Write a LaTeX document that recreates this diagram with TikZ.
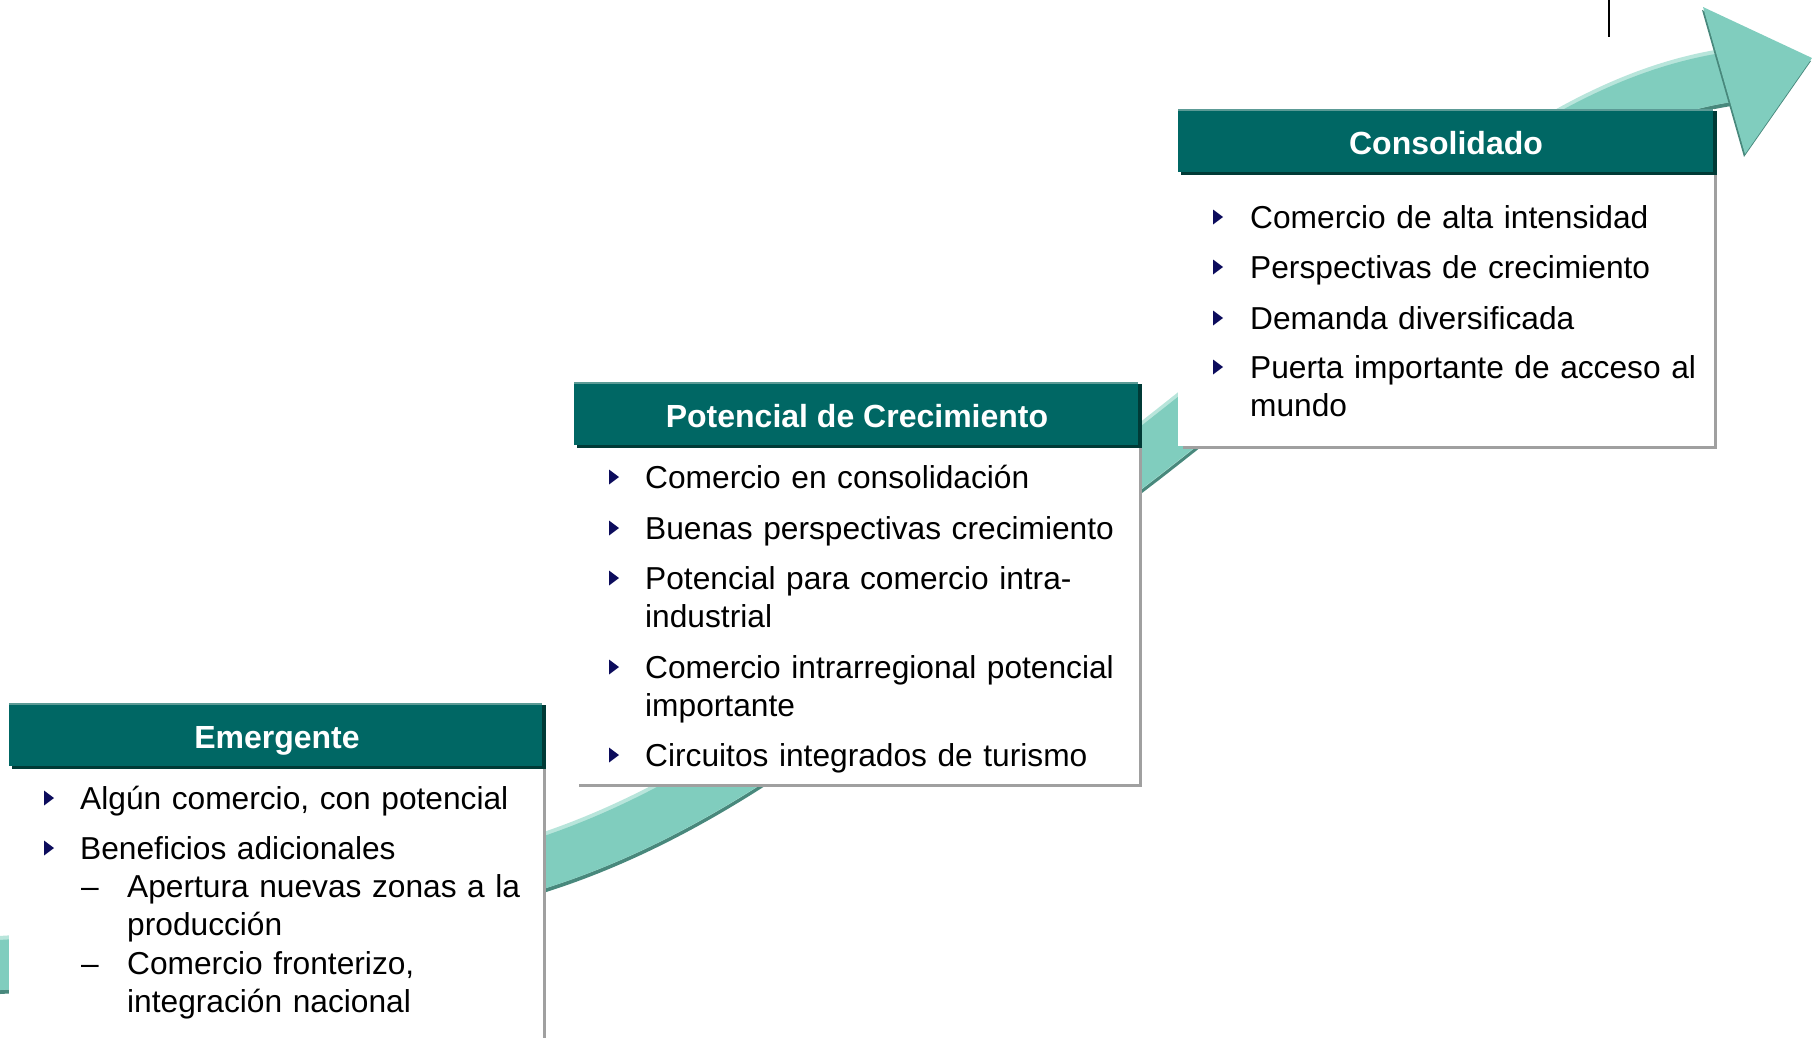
\documentclass[tikz,border=0pt]{standalone}
\usepackage{fontspec}
\setmainfont{Liberation Sans}
\definecolor{hdr}{RGB}{0,103,100}
\definecolor{hdrtop}{RGB}{92,155,150}
\definecolor{hdrshd}{RGB}{0,58,54}
\definecolor{band}{RGB}{128,205,190}
\definecolor{bandhi}{RGB}{184,229,219}
\definecolor{bandlo}{RGB}{72,136,124}
\definecolor{shd}{RGB}{160,160,160}
\definecolor{navy}{RGB}{12,12,92}
\newcommand\panelbox[5]{%
  \fill[shd] (#1+5,#3+5) rectangle (#2,#5);
  \fill[white] (#1,#3) rectangle (#2-3,#5-3);
  \fill[hdrshd] (#1+3,#3+2) rectangle (#2,#4+3);
  \fill[hdr] (#1,#3) rectangle (#2-4,#4);
  \fill[hdrtop] (#1,#3) rectangle (#2-4,#3+2);
}
\newcommand\bulat[2]{\fill[navy] (#1,#2-7.5) -- (#1+10,#2) -- (#1,#2+7.5) -- cycle;}
\begin{document}
\begin{tikzpicture}[x=1pt,y=-1pt,
  itm/.style={anchor=base west, inner sep=0pt, font=\fontsize{31.7}{38}\selectfont, text width=560pt, align=left},
  ttl/.style={anchor=base, inner sep=0pt, text=white, font=\bfseries\fontsize{32}{38}\selectfont}]
\useasboundingbox (0,0) rectangle (1812,1037);
\clip (0,0) rectangle (1812,1037);
% curved band
\foreach \dy/\w/\c in {-2/54/bandlo, 2/54/bandhi, 0/50/band}{
  \draw[line width=\w, color=\c, yshift=\dy]
    (-80,968) .. controls (131,964) and (345,928) .. (545,862)
    .. controls (773,787) and (951,602) .. (1142,457)
    .. controls (1410,248) and (1560,95) .. (1745,75);
}
% arrow head
\fill[bandlo] (1702,10) -- (1811,61) -- (1744,157) -- cycle;
\fill[band] (1703,7) -- (1812,58) -- (1745,154) -- cycle;
% stray line
\draw[line width=2pt, black] (1609,0) -- (1609,37);
% panels
\panelbox{9}{546}{703}{766}{1075}
\panelbox{574}{1142}{382}{445}{787}
\panelbox{1178}{1717}{109}{172}{449}
% titles
\node[ttl] (tE) at (277,748) {Emergente};
\node[ttl] (tP) at (857,427) {Potencial de Crecimiento};
\node[ttl] (tC) at (1446,154) {Consolidado};
% Consolidado items
\bulat{1213}{217}\bulat{1213}{267}\bulat{1213}{318}\bulat{1213}{367}
\node[itm] (c1) at (1250,228) {Comercio de alta intensidad};
\node[itm] (c2) at (1250,278) {Perspectivas de crecimiento};
\node[itm] (c3) at (1250,329) {Demanda diversificada};
\node[itm] (c4) at (1250,378) {Puerta importante de acceso al\\mundo};
% Potencial items
\bulat{609}{477}\bulat{609}{528}\bulat{609}{578}\bulat{609}{667}\bulat{609}{755}
\node[itm] (p1) at (645,488) {Comercio en consolidación};
\node[itm] (p2) at (645,539) {Buenas perspectivas crecimiento};
\node[itm] (p3) at (645,589) {Potencial para comercio intra-\\industrial};
\node[itm] (p4) at (645,678) {Comercio intrarregional potencial\\importante};
\node[itm] (p5) at (645,766) {Circuitos integrados de turismo};
% Emergente items
\bulat{44}{798}\bulat{44}{848}
\node[itm] (e1) at (80,809) {Algún comercio, con potencial};
\node[itm] (e2) at (80,859) {Beneficios adicionales};
\node[itm, text width=40pt] (ed1) at (81,897) {–};
\node[itm] (e3) at (127,897) {Apertura nuevas zonas a la\\producción};
\node[itm, text width=40pt] (ed2) at (81,974) {–};
\node[itm] (e4) at (127,974) {Comercio fronterizo,\\integración nacional};
\end{tikzpicture}
\end{document}
